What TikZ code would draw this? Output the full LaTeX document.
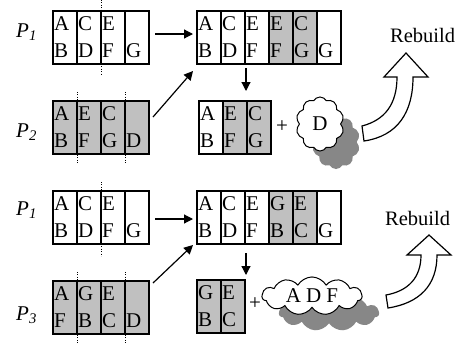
\documentclass[tikz,border=0pt]{standalone}
\usepackage{fontspec}
\setmainfont{Liberation Serif}
\usetikzlibrary{arrows.meta,shapes.symbols}
\definecolor{cellgray}{RGB}{192,192,192}
\definecolor{shadowgray}{RGB}{135,135,135}
\begin{document}
\begin{tikzpicture}[x=1pt,y=-1pt,
  cell/.style={draw, line width=1.2pt, fill=white, anchor=north west,
    minimum height=53pt, text width=22pt, inner xsep=1pt, inner ysep=0pt,
    outer sep=0pt, align=left, font=\fontsize{21}{27}\selectfont},
  grey/.style={cell, fill=cellgray},
  lbl/.style={anchor=base west, inner sep=0pt, font=\fontsize{21}{25}\selectfont},
  arr/.style={line width=1.2pt, -{Triangle[length=9pt,width=9pt]}},
  guide/.style={line width=0.9pt, dash pattern=on 1pt off 1.4pt},
  puff/.style={cloud, cloud puffs=10, cloud puff arc=120, inner sep=0pt,
    font=\fontsize{21}{25}\selectfont},
  bigarrow/.style={line width=1.2pt, fill=white, line join=miter}]
\useasboundingbox (0,0) rectangle (460,343);

% ---------- upper example: P1 and P2 ----------
\node[lbl] (l1) at (16,37) {\textit{P}\textsubscript{\textit{1}}};
\node[cell] (p1a) at (53,11) {A\\B};
\node[cell] (p1b) at (77,11) {C\\D};
\node[cell] (p1c) at (101,11) {E\\F};
\node[cell] (p1d) at (125,11) {\phantom{G}\\G};
\draw[guide] ([yshift=11pt]p1c.north west) -- (p1c.north west);
\draw[guide] (p1c.south west) -- ([yshift=-11pt]p1c.south west);

\node[lbl] (l2) at (16,137) {\textit{P}\textsubscript{\textit{2}}};
\node[grey] (p2a) at (53,101) {A\\B};
\node[grey] (p2b) at (77,101) {E\\F};
\node[grey] (p2c) at (101,101) {C\\G};
\node[grey] (p2d) at (125,101) {\phantom{G}\\D};
\foreach \c in {p2b,p2d}{
  \draw[guide] ([yshift=9pt]\c.north west) -- ([yshift=1pt]\c.north west);
  \draw[guide] ([yshift=-1pt]\c.south west) -- ([yshift=-9pt]\c.south west);
}

\node[cell] (m1a) at (197,11) {A\\B};
\node[cell] (m1b) at (221,11) {C\\D};
\node[cell] (m1c) at (245,11) {E\\F};
\node[grey] (m1d) at (269,11) {E\\F};
\node[grey] (m1e) at (293,11) {C\\G};
\node[cell] (m1f) at (317,11) {\phantom{G}\\G};

\node[cell] (r1a) at (199,101) {A\\B};
\node[grey] (r1b) at (223,101) {E\\F};
\node[grey] (r1c) at (247,101) {C\\G};

\draw[arr, shorten <=6pt, shorten >=4pt] ([yshift=3.5pt]p1d.east) -- ([yshift=3.5pt]m1a.west);
\draw[arr] ([shift={(4,-10.5)}]p2d.east) -- ([shift={(-4,7)}]m1a.south west);
\draw[arr] ([shift={(1,4)}]m1c.south west) -- ([shift={(1,27)}]m1c.south west);

\node[lbl, anchor=center] (plus1) at (282,127) {+};
\node[puff, fill=shadowgray, minimum width=48pt, minimum height=54pt] (s1) at (336,142) {};
\node[puff, draw, line width=1pt, fill=white, minimum width=48pt, minimum height=54pt] (c1) at (320,124) {D};

\draw[bigarrow] (362,126) -- (364,141) .. controls (398,136) and (413,112) .. (413,77)
  -- (428,77) -- (406,53) -- (384,77) -- (397,77)
  .. controls (397,104) and (385,120) .. (362,126) -- cycle;
\node[lbl, font=\fontsize{20.5}{25}\selectfont] (rb1) at (390,42) {Rebuild};

% ---------- lower example: P1 and P3 ----------
\node[lbl] (l3) at (16,215) {\textit{P}\textsubscript{\textit{1}}};
\node[cell] (q1a) at (53,191) {A\\B};
\node[cell] (q1b) at (77,191) {C\\D};
\node[cell] (q1c) at (101,191) {E\\F};
\node[cell] (q1d) at (125,191) {\phantom{G}\\G};
\draw[guide] ([yshift=9pt]q1c.north west) -- (q1c.north west);
\draw[guide] (q1c.south west) -- ([yshift=-12pt]q1c.south west);

\node[lbl] (l4) at (16,320) {\textit{P}\textsubscript{\textit{3}}};
\node[grey] (p3a) at (53,281) {A\\F};
\node[grey] (p3b) at (77,281) {G\\B};
\node[grey] (p3c) at (101,281) {E\\C};
\node[grey] (p3d) at (125,281) {\phantom{G}\\D};
\foreach \c in {p3b,p3d}{
  \draw[guide] ([yshift=9pt]\c.north west) -- ([yshift=1pt]\c.north west);
  \draw[guide] ([yshift=-1pt]\c.south west) -- ([yshift=-9pt]\c.south west);
}

\node[cell] (m2a) at (197,191) {A\\B};
\node[cell] (m2b) at (221,191) {C\\D};
\node[cell] (m2c) at (245,191) {E\\F};
\node[grey] (m2d) at (269,191) {G\\B};
\node[grey] (m2e) at (293,191) {E\\C};
\node[cell] (m2f) at (317,191) {\phantom{G}\\G};

\node[grey] (r2a) at (197,280) {G\\B};
\node[grey] (r2b) at (221,280) {E\\C};

\draw[arr, shorten <=6pt, shorten >=4pt] ([yshift=-1.5pt]q1d.east) -- ([yshift=-1.5pt]m2a.west);
\draw[arr] ([shift={(4,-24.5)}]p3d.east) -- ([shift={(-4,1)}]m2a.south west);
\draw[arr] ([shift={(1,9)}]m2c.south west) -- ([shift={(1,31)}]m2c.south west);

\node[lbl, anchor=center] (plus2) at (255,304) {+};
\node[puff, cloud puffs=11, aspect=2.7, fill=shadowgray, minimum width=100pt, minimum height=36pt] (s2) at (329,313) {};
\node[puff, cloud puffs=11, aspect=2.7, draw, line width=1pt, fill=white, minimum width=100pt, minimum height=36pt] (c2) at (312,296) {A\hspace{5pt}D\hspace{5pt}F};

\draw[bigarrow] (386,295) -- (388,308) .. controls (420,303) and (437,285) .. (437,255)
  -- (451,255) -- (429,235) -- (407,255) -- (421,255)
  .. controls (421,278) and (408,291) .. (386,295) -- cycle;
\node[lbl, font=\fontsize{20.5}{25}\selectfont] (rb2) at (385,225) {Rebuild};
\end{tikzpicture}
\end{document}
